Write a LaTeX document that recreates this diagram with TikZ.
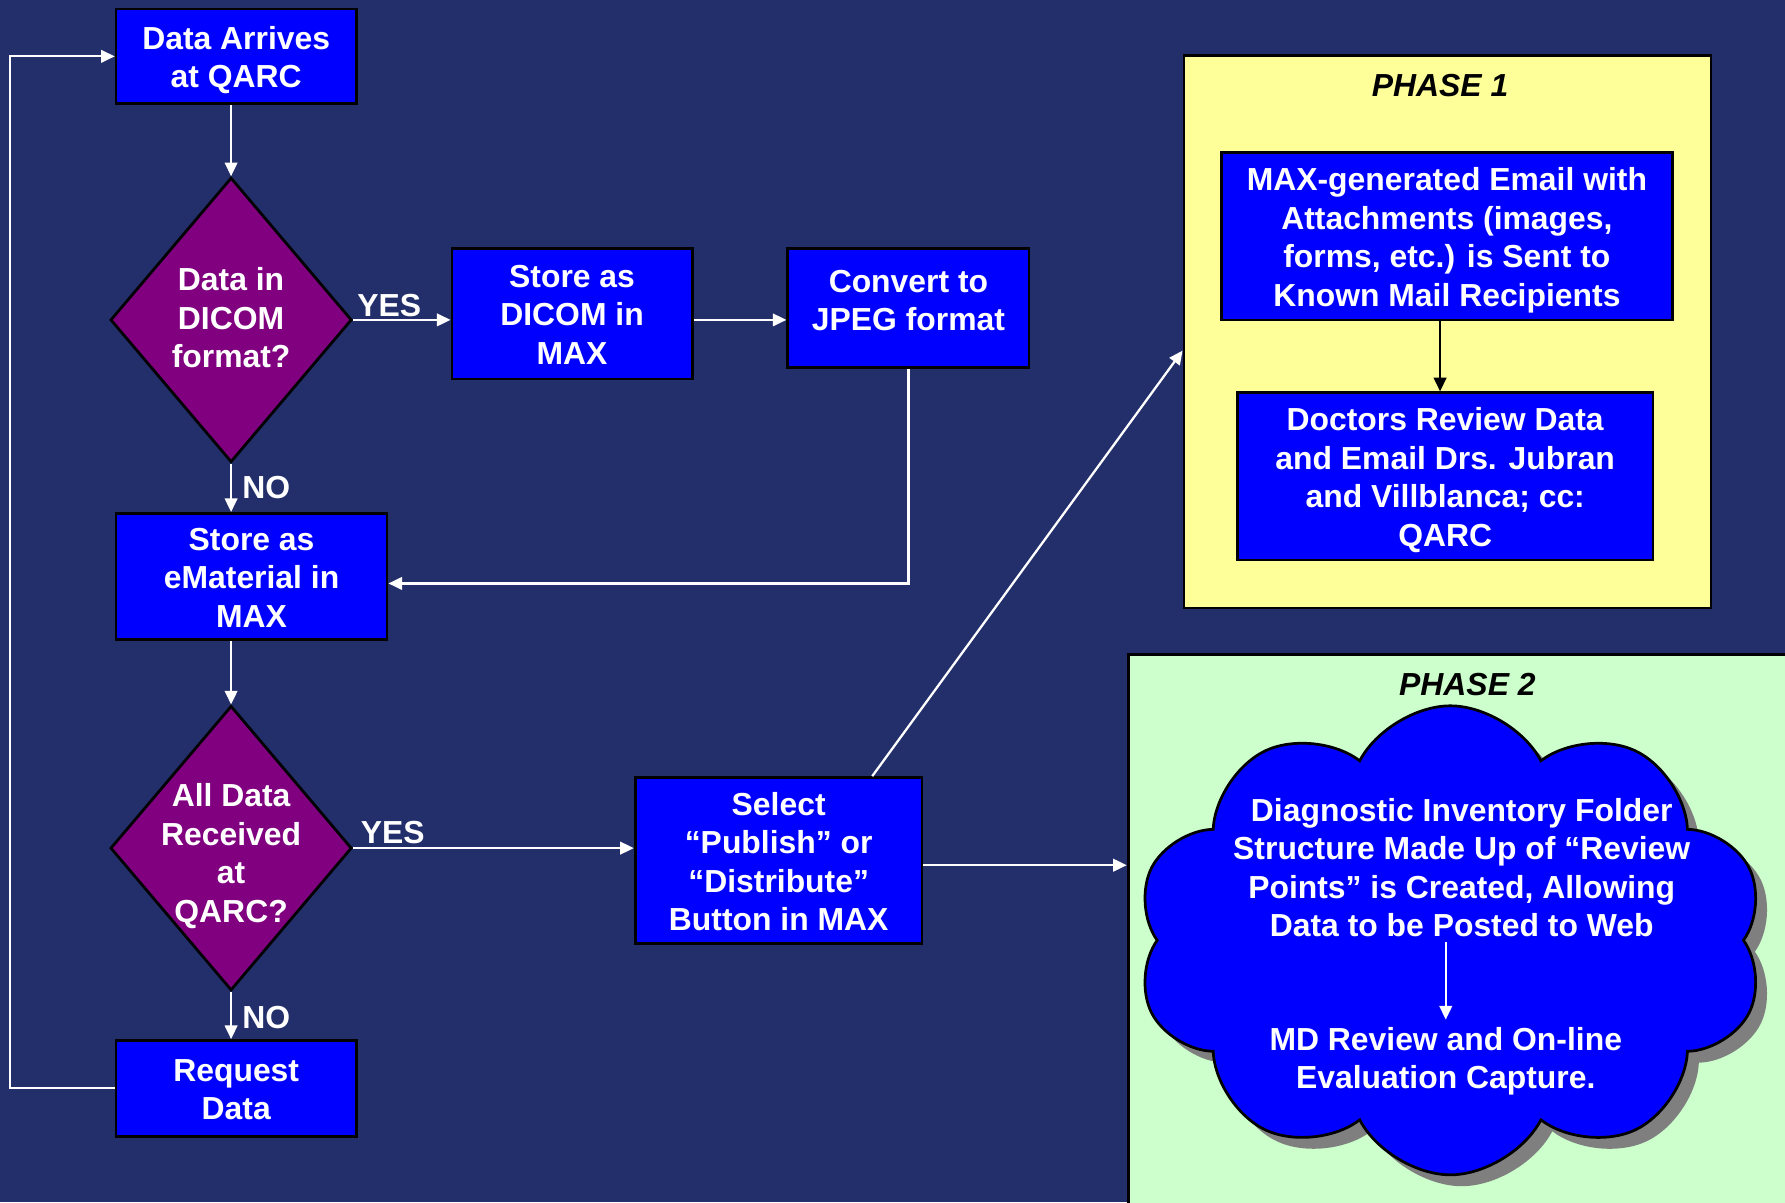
\documentclass[tikz,border=0pt]{standalone}
\usepackage{fontspec}
\setmainfont{Liberation Sans}
\usetikzlibrary{shapes.geometric,shapes.symbols,shadows,arrows.meta,calc}
\definecolor{bgnavy}{HTML}{232F6A}
\definecolor{boxblue}{HTML}{0000FF}
\definecolor{diapurple}{HTML}{800080}
\definecolor{phaseyellow}{HTML}{FFFF99}
\definecolor{phasegreen}{HTML}{CCFFCC}
\definecolor{shadowgray}{HTML}{7F7F7F}
\newcommand{\boxtxt}[1]{\raisebox{-2pt}[\height][\depth]{\begin{tabular}{@{}c@{}}#1\end{tabular}}}
\begin{document}
\begin{tikzpicture}[x=0.5pt,y=-0.5pt,
  lbl/.style={font=\bfseries\fontsize{14}{16.9}\selectfont,text=white,align=center,inner sep=0pt},
  box/.style={draw=black,line width=1.2pt,fill=boxblue,inner sep=0pt,text=white,font=\bfseries\fontsize{14}{16.9}\selectfont},
  dia/.style={diamond,draw=black,line width=1.2pt,fill=diapurple,inner sep=0pt},
  phasebox/.style={draw=black,line width=1.2pt,inner sep=0pt},
  phasetitle/.style={font=\bfseries\itshape\fontsize{14}{16.9}\selectfont,text=black,inner sep=0pt},
  arr/.style={draw=white,line width=1pt,-{Triangle[length=6pt,width=5.5pt]}},
  blackarr/.style={draw=black,line width=1pt,-{Triangle[length=6pt,width=5.5pt]}}
]
\useasboundingbox (0,0) rectangle (1568,1056);
\fill[bgnavy] (0,0) rectangle (1568,1056);

% phase containers
\node[phasebox,fill=phaseyellow,minimum width=231.5pt,minimum height=242.5pt] (ph1) at (1271.5,291.5) {};
\node[phasetitle] (ph1t) at (1265,75) {PHASE 1};
\node[phasebox,fill=phasegreen,minimum width=289.5pt,minimum height=242pt] (ph2) at (1280.5,817) {};
\node[phasetitle] (ph2t) at (1289,601) {PHASE 2};

% left flow
\node[box,minimum width=105.5pt,minimum height=41.5pt] (da) at (207.5,49.5) {\boxtxt{Data Arrives\\at QARC}};
\node[dia,minimum width=106pt,minimum height=125pt] (d1) at (203,281) {};
\node[lbl] (d1t) at (203,279) {Data in\\DICOM\\format?};
\node[box,minimum width=105.5pt,minimum height=57.5pt] (sd) at (502.5,275.5) {\boxtxt{Store as\\DICOM in\\MAX}};
\node[box,minimum width=106pt,minimum height=52.5pt] (conv) at (798,270.5) {};
\node[lbl] (convt) at (798,264) {Convert to\\JPEG format};
\node[box,minimum width=119pt,minimum height=55.5pt] (em) at (221,506.5) {\boxtxt{Store as\\eMaterial in\\MAX}};
\node[dia,minimum width=106pt,minimum height=125pt] (d2) at (203,745) {};
\node[lbl] (d2t) at (203,752) {All Data\\Received\\at\\QARC?};
\node[box,minimum width=105.5pt,minimum height=42pt] (req) at (207.5,956) {\boxtxt{Request\\Data}};
\node[box,minimum width=126pt,minimum height=73pt] (sel) at (684,756) {\boxtxt{Select\\``Publish'' or\\``Distribute''\\Button in MAX}};

% phase 1 content
\node[box,minimum width=198pt,minimum height=73.5pt] (mg) at (1271,207.5) {\boxtxt{MAX-generated Email with\\Attachments (images,\\forms, etc.) is Sent to\\Known Mail Recipients}};
\node[box,minimum width=182.5pt,minimum height=73.5pt] (dr) at (1269.5,418.5) {\boxtxt{Doctors Review Data\\and Email Drs. Jubran\\and Villblanca; cc:\\QARC}};
\draw[blackarr] ([xshift=-3pt]mg.south) -- ([xshift=-3pt]mg.south |- dr.north);

% phase 2 cloud
\node[cloud,cloud puffs=10,cloud puff arc=125,cloud ignores aspect,draw=black,line width=1.2pt,fill=boxblue,
  minimum width=276pt,minimum height=206pt,inner sep=0pt,
  drop shadow={shadow xshift=5pt,shadow yshift=-5pt,fill=shadowgray,opacity=1}] (cl) at (1274,826) {};
\node[lbl] (ct1) at (1284,762) {Diagnostic Inventory Folder\\Structure Made Up of ``Review\\Points'' is Created, Allowing\\Data to be Posted to Web};
\node[lbl] (ct2) at (1270,932) {MD Review and On-line\\Evaluation Capture.};
\draw[arr] ([yshift=-2pt]ct2.north |- ct1.south) -- ([yshift=3pt]ct2.north);

% connectors
\draw[arr] (d1.north |- da.south) -- (d1.north);
\draw[arr] (d1.east) -- (d1.east -| sd.west);
\node[lbl,anchor=south] (yes1) at (342,279) {YES};
\draw[arr] (d1.east -| sd.east) -- (d1.east -| conv.west);
\draw[arr] (conv.south) |- ([yshift=-3pt]em.east);
\draw[arr] (d1.south) -- (d1.south |- em.north);
\node[lbl] (no1) at (234,428) {NO};
\draw[arr] (d2.north |- em.south) -- (d2.north);
\draw[arr] (d2.east) -- (d2.east -| sel.west);
\node[lbl,anchor=south] (yes2) at (345,742) {YES};
\draw[arr] (d2.south) -- (d2.south |- req.north);
\node[lbl] (no2) at (234,894) {NO};
\draw[arr] (req.west) -- ++(-92,0) |- (da.west);
\draw[arr] ([xshift=-22.5pt]sel.north east) -- ([yshift=-8.25pt]ph1.west);
\draw[arr] ([yshift=-2pt]sel.east) -- ([yshift=-2pt]sel.east -| ph2.west);
\end{tikzpicture}
\end{document}
